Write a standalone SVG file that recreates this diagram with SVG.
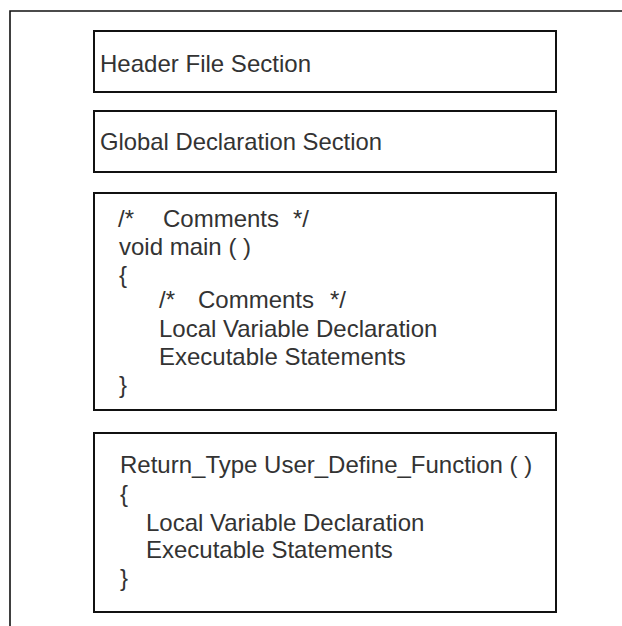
<svg xmlns="http://www.w3.org/2000/svg" width="622" height="626" viewBox="0 0 622 626">
  <style>
    .frame { fill: none; stroke: #111; stroke-width: 1.6; }
    .box { fill: #fff; stroke: #111; stroke-width: 2; }
    .t { font-family: "Liberation Sans", Arial, sans-serif; font-size: 24px; fill: #333; }
  </style>
  <rect x="0" y="0" width="622" height="626" fill="#fff"/>
  <!-- page frame: top and left edges -->
  <path class="frame" d="M10 626 V11 H622"/>

  <g id="header-section">
    <rect class="box" x="94" y="31" width="462" height="61"/>
    <text class="t" x="100" y="72" textLength="211" lengthAdjust="spacingAndGlyphs">Header File Section</text>
  </g>

  <g id="global-section">
    <rect class="box" x="94" y="111" width="462" height="61"/>
    <text class="t" x="100" y="150" textLength="282" lengthAdjust="spacingAndGlyphs">Global Declaration Section</text>
  </g>

  <g id="main-section">
    <rect class="box" x="94" y="193" width="462" height="217"/>
    <text class="t"><tspan x="118" y="227">/*</tspan><tspan x="163" y="227">Comments</tspan><tspan x="293" y="227">*/</tspan></text>
    <text class="t" x="119" y="255">void main ( )</text>
    <text class="t" x="119" y="283">{</text>
    <text class="t"><tspan x="159" y="308">/*</tspan><tspan x="198" y="308">Comments</tspan><tspan x="330" y="308">*/</tspan></text>
    <text class="t" x="159" y="337">Local Variable Declaration</text>
    <text class="t" x="159" y="365">Executable Statements</text>
    <text class="t" x="119" y="393">}</text>
  </g>

  <g id="user-function-section">
    <rect class="box" x="94" y="433" width="462" height="179"/>
    <text class="t" x="120" y="473">Return_Type User_Define_Function ( )</text>
    <text class="t" x="120" y="502">{</text>
    <text class="t" x="146" y="531">Local Variable Declaration</text>
    <text class="t" x="146" y="558">Executable Statements</text>
    <text class="t" x="120" y="586">}</text>
  </g>

  <g id="connectors"></g>
</svg>
